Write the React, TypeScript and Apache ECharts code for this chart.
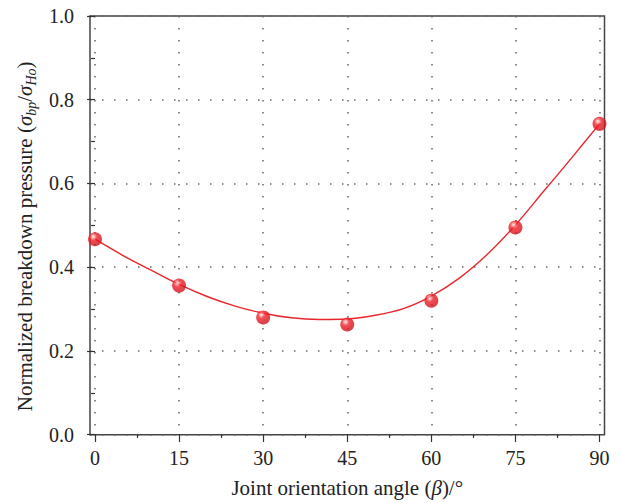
import React, { useEffect, useRef } from "react";
import * as echarts from "echarts";

const angles = [0, 15, 30, 45, 60, 75, 90];
const pressures = [0.466, 0.355, 0.279, 0.262, 0.319, 0.494, 0.742];
const fitAngles = [0, 5, 10, 15, 20, 25, 30, 35, 40, 45, 50, 55, 60, 65, 70, 75, 80, 85, 90];
const fitValues = [0.466, 0.427, 0.392, 0.358, 0.329, 0.306, 0.289, 0.278, 0.274, 0.275, 0.284, 0.3, 0.33, 0.373, 0.43, 0.5, 0.58, 0.66, 0.742];
const xTicks = { min: 0, max: 90, interval: 15 };
const yTicks = { min: 0, max: 1, interval: 0.2 };

const FONT = "Liberation Serif";
const TXT = "#222";

export default function App() {
  const ref = useRef<HTMLDivElement>(null);
  useEffect(() => {
    if (!ref.current) return;
    const chart = echarts.init(ref.current, undefined, { renderer: "svg" });
    const sphere = new echarts.graphic.RadialGradient(0.38, 0.32, 0.7, [
      { offset: 0, color: "#ffffff" },
      { offset: 0.15, color: "#f99a9d" },
      { offset: 0.38, color: "#ef1f26" },
      { offset: 1, color: "#cc111a" },
    ]);
    const dotted = { color: "#666", width: 1.5, type: [1.5, 10.5] as number[] };
    chart.setOption({
      animation: false,
      backgroundColor: "#fff",
      textStyle: { fontFamily: FONT, color: TXT },
      grid: [
        { left: 90, right: 16.5, top: 16, bottom: 68.3, show: true, borderColor: "#444", borderWidth: 1.5, containLabel: false },
        { left: 95, right: 21.5, top: 16, bottom: 68.3, containLabel: false },
      ],
      xAxis: [
        { gridIndex: 0, type: "value", min: -0.9, max: 90.9, show: false },
        {
          gridIndex: 1,
          type: "value",
          min: xTicks.min,
          max: xTicks.max,
          interval: xTicks.interval,
          axisLine: { show: false },
          axisTick: { show: true, inside: false, length: 8, lineStyle: { color: "#333", width: 1.2 } },
          minorTick: { show: true, splitNumber: 2, length: 4, lineStyle: { color: "#333", width: 1.2 } },
          axisLabel: { fontSize: 20, color: TXT, fontFamily: FONT, margin: 14 },
          splitLine: { show: true, lineStyle: dotted },
          name: "{n|Joint orientation angle (}{i|β}{n|)/°}",
          nameLocation: "middle",
          nameGap: 43,
          nameTextStyle: {
            rich: {
              n: { fontSize: 21, fontFamily: FONT, color: TXT },
              i: { fontSize: 21, fontFamily: FONT, color: TXT, fontStyle: "italic" },
            },
          },
        },
      ],
      yAxis: [
        {
          gridIndex: 0,
          type: "value",
          min: yTicks.min,
          max: yTicks.max,
          interval: yTicks.interval,
          axisLine: { show: false },
          axisTick: { show: true, inside: false, length: 8, lineStyle: { color: "#333", width: 1.2 } },
          minorTick: { show: true, splitNumber: 2, length: 4, lineStyle: { color: "#333", width: 1.2 } },
          axisLabel: { fontSize: 20, color: TXT, fontFamily: FONT, margin: 16, formatter: (v: number) => v.toFixed(1) },
          splitLine: { show: true, lineStyle: dotted },
          name: "{n|Normalized breakdown pressure (}{i|σ}{s|bp}{n|/}{i|σ}{s|Ho}{n|)}",
          nameLocation: "middle",
          nameGap: 51,
          nameTextStyle: {
            padding: [0, 22, 0, 0],
            rich: {
              n: { fontSize: 21, fontFamily: FONT, color: TXT, lineHeight: 26, verticalAlign: "middle" },
              i: { fontSize: 21, fontFamily: FONT, color: TXT, fontStyle: "italic", lineHeight: 26, verticalAlign: "middle" },
              s: { fontSize: 14, fontFamily: FONT, color: TXT, fontStyle: "italic", lineHeight: 15, verticalAlign: "bottom" },
            },
          },
        },
        { gridIndex: 1, type: "value", min: yTicks.min, max: yTicks.max, show: false },
      ],
      series: [
        {
          type: "line",
          xAxisIndex: 1,
          yAxisIndex: 1,
          data: fitAngles.map((a, i) => [a, fitValues[i]]),
          smooth: 0.3,
          showSymbol: false,
          symbol: "none",
          lineStyle: { color: "#e8262c", width: 1.4 },
          z: 3,
        },
        {
          type: "scatter",
          xAxisIndex: 1,
          yAxisIndex: 1,
          data: angles.map((a, i) => [a, pressures[i]]),
          symbol: "circle",
          symbolSize: 14,
          itemStyle: { color: sphere },
          z: 4,
        },
      ],
    });
    return () => chart.dispose();
  }, []);
  return <div ref={ref} style={{ width: 621, height: 503, position: "absolute", left: 0, top: 0 }} />;
}
